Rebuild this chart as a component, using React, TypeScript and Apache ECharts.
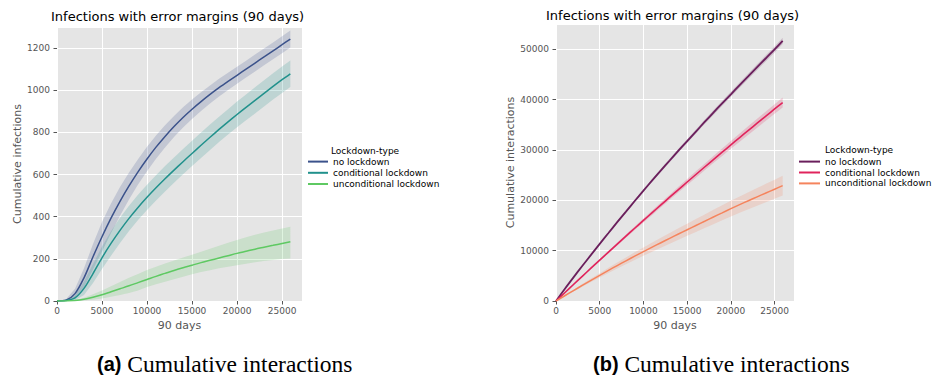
import React, { useEffect, useRef } from "react";
import * as echarts from "echarts";

// ---- shared x positions (time steps) ----
const days = [0, 1000, 2000, 3000, 4000, 5000, 6000, 7000, 8000, 9000, 10000, 11000, 12000, 13000, 14000, 15000, 16000, 17000, 18000, 19000, 20000, 21000, 22000, 23000, 24000, 25000, 25920];

const seriesNames = ["no lockdown", "conditional lockdown", "unconditional lockdown"];

// ---- (a) cumulative infections ----
const infNoMean = [0, 4, 35, 110, 210, 305, 393, 473, 546, 613, 674, 730, 781, 828, 871, 910, 946, 980, 1012, 1042, 1071, 1100, 1129, 1158, 1187, 1216, 1243];
const infNoLow = [0, 0, 12, 65, 150, 235, 323, 405, 482, 553, 616, 675, 728, 778, 823, 864, 902, 937, 970, 1001, 1031, 1060, 1089, 1118, 1147, 1176, 1203];
const infNoHigh = [0, 8, 58, 155, 270, 375, 463, 541, 610, 673, 732, 785, 834, 878, 919, 956, 990, 1023, 1054, 1083, 1111, 1140, 1169, 1198, 1227, 1256, 1283];

const infCondMean = [0, 2, 15, 60, 130, 205, 273, 335, 392, 444, 492, 537, 580, 621, 661, 700, 739, 777, 814, 850, 885, 919, 952, 985, 1018, 1050, 1078];
const infCondLow = [0, 0, 3, 28, 85, 152, 215, 275, 332, 384, 432, 477, 520, 561, 601, 640, 679, 717, 754, 790, 824, 858, 890, 923, 956, 987, 1015];
const infCondHigh = [0, 5, 27, 92, 175, 258, 331, 395, 452, 504, 552, 597, 640, 681, 721, 760, 799, 837, 874, 910, 946, 980, 1014, 1047, 1080, 1113, 1141];

const infUncMean = [0, 0, 2, 8, 18, 30, 44, 58, 72, 87, 102, 117, 131, 145, 158, 170, 182, 193, 204, 215, 226, 236, 246, 255, 264, 273, 281];
const infUncLow = [0, 0, 0, 2, 6, 12, 20, 28, 38, 50, 66, 79, 91, 103, 115, 127, 137, 146, 155, 163, 170, 177, 184, 190, 195, 199, 202];
const infUncHigh = [0, 0, 5, 15, 32, 50, 70, 90, 110, 128, 147, 163, 178, 192, 206, 220, 234, 248, 262, 276, 290, 302, 314, 325, 335, 344, 352];

// ---- (b) cumulative interactions ----
const intNoMean = [0, 2400, 4700, 6950, 9150, 11350, 13500, 15650, 17750, 19850, 21900, 23950, 25950, 27900, 29850, 31750, 33650, 35550, 37400, 39250, 41050, 42850, 44650, 46450, 48200, 49950, 51650];
const intNoLow = [0, 2370, 4640, 6870, 9040, 11210, 13340, 15460, 17540, 19610, 21640, 23660, 25640, 27570, 29490, 31370, 33250, 35120, 36950, 38780, 40560, 42340, 44110, 45890, 47620, 49350, 51030];
const intNoHigh = [0, 2430, 4760, 7030, 9260, 11490, 13660, 15840, 17960, 20090, 22160, 24240, 26260, 28230, 30210, 32130, 34050, 35980, 37850, 39720, 41540, 43360, 45190, 47010, 48780, 50550, 52270];

const intCondMean = [0, 1645, 3280, 4905, 6520, 8125, 9720, 11305, 12880, 14445, 16000, 17545, 19080, 20605, 22120, 23625, 25120, 26605, 28080, 29545, 31000, 32445, 33880, 35305, 36720, 38125, 39400];
const intCondLow = [0, 1600, 3200, 4780, 6360, 7920, 9480, 11020, 12560, 14080, 15600, 17100, 18600, 20090, 21570, 23030, 24490, 25940, 27380, 28800, 30220, 31630, 33030, 34420, 35800, 37170, 38410];
const intCondHigh = [0, 1690, 3360, 5030, 6680, 8330, 9960, 11590, 13200, 14810, 16400, 17990, 19560, 21120, 22670, 24220, 25750, 27270, 28780, 30290, 31780, 33260, 34730, 36190, 37640, 39080, 40390];

const intUncMean = [0, 1040, 2070, 3090, 4100, 5100, 6080, 7040, 7980, 8900, 9800, 10690, 11570, 12440, 13300, 14150, 15000, 15840, 16680, 17510, 18340, 19130, 19910, 20680, 21440, 22200, 22900];
const intUncLow = [0, 952, 1894, 2827, 3752, 4667, 5563, 6442, 7302, 8144, 8967, 9781, 10587, 11383, 12170, 12947, 13725, 14494, 15262, 16022, 16781, 17504, 18218, 18922, 19618, 20313, 20954];
const intUncHigh = [0, 1128, 2246, 3353, 4449, 5534, 6597, 7638, 8658, 9657, 10633, 11599, 12553, 13497, 14431, 15353, 16275, 17186, 18098, 18998, 19899, 20756, 21602, 22438, 23262, 24087, 24847];

// ---- axis ticks ----
const xTickInterval = 5000;
const xMax = 27216;
const leftYMax = 1300;
const leftYInterval = 200;
const rightYMax = 55000;
const rightYInterval = 10000;

const leftColors = ["#3b528b", "#21918c", "#5ec962"];
const rightColors = ["#6a1f5c", "#e0245c", "#f5845d"];

const FONT = "DejaVu Sans";
const TICK_COLOR = "#555555";

function pairs(ys: number[]) {
  return days.map((d, i) => [d, ys[i]]);
}

function bandSeries(idx: number, lo: number[], hi: number[], color: string) {
  const data = days.map((d, i) => [d, lo[i], hi[i]]);
  const n = data.length;
  return {
    type: "custom",
    xAxisIndex: idx,
    yAxisIndex: idx,
    silent: true,
    z: 1,
    clip: true,
    encode: { x: 0, y: [1, 2] },
    data,
    renderItem: (params: any, api: any) => {
      if (params.dataIndexInside !== 0) return null;
      const pts: number[][] = [];
      for (let i = 0; i < n; i++) pts.push(api.coord([api.value(0, i), api.value(2, i)]));
      for (let i = n - 1; i >= 0; i--) pts.push(api.coord([api.value(0, i), api.value(1, i)]));
      return {
        type: "polygon",
        shape: { points: pts },
        style: { fill: color, opacity: 0.2 },
        silent: true,
      };
    },
  };
}

function lineSeries(idx: number, name: string, ys: number[], color: string, width: number) {
  return {
    type: "line",
    name,
    xAxisIndex: idx,
    yAxisIndex: idx,
    data: pairs(ys),
    symbol: "none",
    showSymbol: false,
    smooth: 0.3,
    z: 3,
    lineStyle: { color, width },
    itemStyle: { color },
  };
}

const plainNumber = (v: number) => String(v);

function xAxisDef(idx: number) {
  return {
    type: "value",
    gridIndex: idx,
    min: 0,
    max: xMax,
    interval: xTickInterval,
    name: "90 days",
    nameLocation: "middle",
    nameGap: 18,
    nameTextStyle: { fontSize: 11, color: TICK_COLOR, fontFamily: FONT },
    axisLine: { show: false },
    axisTick: { show: true, length: 3.5, lineStyle: { color: TICK_COLOR, width: 1 } },
    axisLabel: { fontSize: 9, color: TICK_COLOR, margin: 5, showMaxLabel: false, fontFamily: FONT, formatter: plainNumber },
    splitLine: { show: true, lineStyle: { color: "#ffffff", width: 1 } },
  };
}

function yAxisDef(idx: number, name: string, max: number, interval: number, gap: number) {
  return {
    type: "value",
    gridIndex: idx,
    min: 0,
    max,
    interval,
    name,
    nameLocation: "middle",
    nameGap: gap,
    nameTextStyle: { fontSize: 11, color: TICK_COLOR, fontFamily: FONT },
    axisLine: { show: false },
    axisTick: { show: true, length: 3.5, lineStyle: { color: TICK_COLOR, width: 1 } },
    axisLabel: { fontSize: 9, color: TICK_COLOR, margin: 7, showMaxLabel: false, fontFamily: FONT, formatter: plainNumber },
    splitLine: { show: true, lineStyle: { color: "#ffffff", width: 1 } },
  };
}

export default function App() {
  const ref = useRef<HTMLDivElement>(null);

  useEffect(() => {
    if (!ref.current) return;
    const chart = echarts.init(ref.current, undefined, { renderer: "svg" });

    const rightNames = seriesNames.map((n) => n + " ");

    const option: any = {
      animation: false,
      backgroundColor: "#ffffff",
      textStyle: { fontFamily: FONT },
      title: [
        {
          text: "Infections with error margins (90 days)",
          left: 51,
          top: 10,
          padding: 0,
          textStyle: { fontSize: 13, fontWeight: "normal", color: "#000000", fontFamily: FONT },
        },
        {
          text: "Infections with error margins (90 days)",
          left: 546,
          top: 9,
          padding: 0,
          textStyle: { fontSize: 13, fontWeight: "normal", color: "#000000", fontFamily: FONT },
        },
      ],
      grid: [
        { left: 57, top: 27, width: 245, height: 274, show: true, backgroundColor: "#E5E5E5", borderWidth: 0 },
        { left: 556, top: 24, width: 238, height: 277, show: true, backgroundColor: "#E5E5E5", borderWidth: 0 },
      ],
      xAxis: [xAxisDef(0), xAxisDef(1)],
      yAxis: [
        yAxisDef(0, "Cumulative infections", leftYMax, leftYInterval, 34),
        yAxisDef(1, "Cumulative interactions", rightYMax, rightYInterval, 39),
      ],
      legend: [
        {
          data: seriesNames,
          orient: "vertical",
          left: 307,
          top: 156,
          itemWidth: 20,
          itemHeight: 14,
          itemGap: 0,
          padding: 0,
          selectedMode: false,
          itemStyle: { opacity: 0 },
          textStyle: { fontSize: 9, color: "#000000", fontFamily: FONT },
        },
        {
          data: rightNames,
          orient: "vertical",
          left: 798,
          top: 156,
          itemWidth: 21,
          itemHeight: 14,
          itemGap: -0.3,
          padding: 0,
          selectedMode: false,
          itemStyle: { opacity: 0 },
          formatter: (n: string) => n.trim(),
          textStyle: { fontSize: 9, color: "#000000", fontFamily: FONT },
        },
      ],
      graphic: [
        {
          type: "text",
          left: 331,
          top: 146,
          style: { text: "Lockdown-type", fontSize: 9, fill: "#000000", fontFamily: FONT },
        },
        {
          type: "text",
          left: 825,
          top: 145,
          style: { text: "Lockdown-type", fontSize: 9, fill: "#000000", fontFamily: FONT },
        },
        {
          type: "text",
          left: 97,
          top: 352,
          style: {
            text: "{b|(a)}{r| Cumulative interactions}",
            rich: {
              b: { fontFamily: "Liberation Sans", fontWeight: "bold", fontSize: 20, fill: "#000000" },
              r: { fontFamily: "Liberation Serif", fontSize: 23.5, fill: "#000000" },
            },
          },
        },
        {
          type: "text",
          left: 593,
          top: 352,
          style: {
            text: "{b|(b)}{r| Cumulative interactions}",
            rich: {
              b: { fontFamily: "Liberation Sans", fontWeight: "bold", fontSize: 20, fill: "#000000" },
              r: { fontFamily: "Liberation Serif", fontSize: 23.5, fill: "#000000" },
            },
          },
        },
      ],
      series: [
        bandSeries(0, infNoLow, infNoHigh, leftColors[0]),
        bandSeries(0, infCondLow, infCondHigh, leftColors[1]),
        bandSeries(0, infUncLow, infUncHigh, leftColors[2]),
        bandSeries(1, intNoLow, intNoHigh, rightColors[0]),
        bandSeries(1, intCondLow, intCondHigh, rightColors[1]),
        bandSeries(1, intUncLow, intUncHigh, rightColors[2]),
        lineSeries(0, seriesNames[0], infNoMean, leftColors[0], 1.5),
        lineSeries(0, seriesNames[1], infCondMean, leftColors[1], 1.5),
        lineSeries(0, seriesNames[2], infUncMean, leftColors[2], 1.5),
        lineSeries(1, rightNames[0], intNoMean, rightColors[0], 1.8),
        lineSeries(1, rightNames[1], intCondMean, rightColors[1], 1.6),
        lineSeries(1, rightNames[2], intUncMean, rightColors[2], 1.5),
      ],
    };

    chart.setOption(option);
    return () => {
      chart.dispose();
    };
  }, []);

  return (
    <div
      ref={ref}
      style={{ position: "absolute", left: 0, top: 0, width: 934, height: 381, background: "#ffffff" }}
    />
  );
}
